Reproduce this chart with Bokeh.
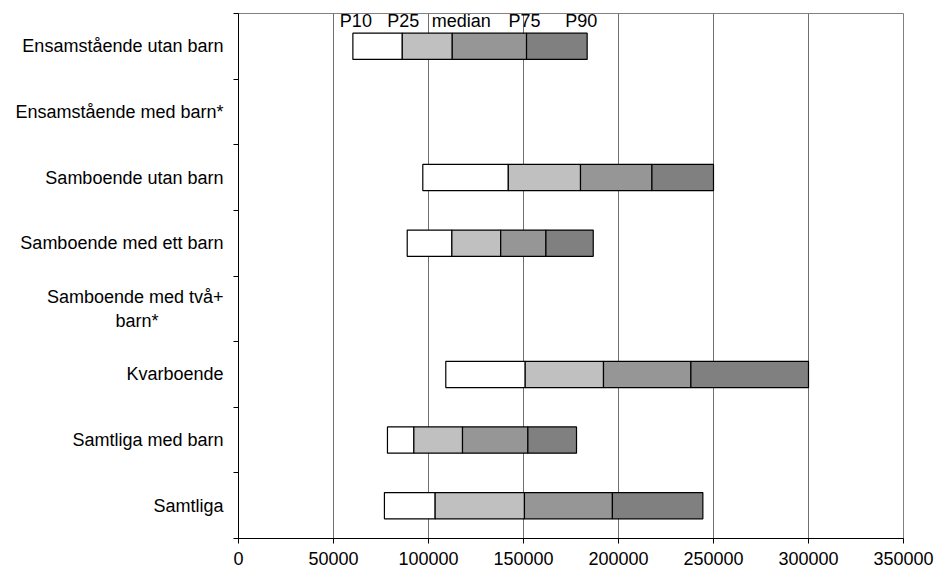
from bokeh.plotting import figure
from bokeh.models import (Range1d, LinearAxis, FixedTicker, NumeralTickFormatter,
                          ColumnDataSource)
from bokeh.core.properties import value
from bokeh.embed import file_html
from bokeh.resources import INLINE

# ---- data (top to bottom as in the chart) ----
categories = [
    "Ensamstående utan barn",
    "Ensamstående med barn*",
    "Samboende utan barn",
    "Samboende med ett barn",
    "Samboende med två+\nbarn*" + "\u00a0" * 13,
    "Kvarboende",
    "Samtliga med barn",
    "Samtliga",
]
p10 =    [60200, None,  97000,  88800, None, 109100, 78400,  76800]
p25 =    [86200, None, 142000, 112300, None, 150900, 92300, 103500]
median = [112500, None, 180000, 138000, None, 192100, 117900, 150500]
p75 =    [151600, None, 217600, 161800, None, 238100, 152300, 196800]
p90 =    [183500, None, 250000, 186700, None, 300000, 177900, 244400]

pct_labels = ["P10", "P25", "median", "P75", "P90"]
x_ticks = [0, 50000, 100000, 150000, 200000, 250000, 300000, 350000]

seg_colors = ["#FFFFFF", "#C0C0C0", "#969696", "#808080"]
FONT = "Liberation Sans"
FS = "18px"

n = len(categories)
ypos = [n - i - 0.5 for i in range(n)]  # row centres, first category at top

p = figure(y_range=Range1d(0, n), x_range=Range1d(0, 350000),
           frame_width=665, frame_height=525,
           min_border_left=238, min_border_right=32, min_border_top=13, min_border_bottom=10,
           y_axis_location=None, output_backend="svg", toolbar_location=None,
           background_fill_color="white", border_fill_color="white")
p.outline_line_color = "#808080"
p.outline_line_width = 1

# bars
cols = [p10, p25, median, p75, p90]
for k in range(4):
    ys, lefts, rights = [], [], []
    for i in range(n):
        if cols[k][i] is None:
            continue
        ys.append(ypos[i])
        lefts.append(cols[k][i])
        rights.append(cols[k + 1][i])
    src = ColumnDataSource(dict(y=ys, left=lefts, right=rights))
    p.hbar(y="y", left="left", right="right", height=0.4, source=src,
           fill_color=seg_colors[k], line_color="black", line_width=1.2)

# percentile labels above first row
lab_src = ColumnDataSource(dict(
    x=[p10[0], p25[0], median[0], p75[0], p90[0]],
    y=[ypos[0] + 0.393] * 5,
    text=pct_labels,
    xoff=[3, 1, 9, -2, -6],
))
p.text(x="x", y="y", text="text", x_offset="xoff", source=lab_src,
       text_align="center", text_baseline="middle",
       text_font=value(FONT), text_font_size=FS, text_color="black")

# x axis
p.xaxis.ticker = FixedTicker(ticks=x_ticks)
p.xaxis.formatter = NumeralTickFormatter(format="0")
p.xaxis.axis_line_color = "black"
p.xaxis.major_tick_line_color = "black"
p.xaxis.major_tick_in = 0
p.xaxis.major_tick_out = 5
p.xaxis.minor_tick_line_color = None
p.xaxis.major_label_text_font = FONT
p.xaxis.major_label_text_font_size = FS
p.xaxis.major_label_text_color = "black"
p.xaxis.major_label_standoff = 8

p.xgrid.ticker = FixedTicker(ticks=x_ticks)
p.xgrid.grid_line_color = "#707070"
p.ygrid.grid_line_color = None

# y axis: labels at row centres, tick marks (minor) at category boundaries
label_axis = LinearAxis(ticker=FixedTicker(ticks=ypos, minor_ticks=list(range(n + 1))),
                        major_label_overrides={y: c for y, c in zip(ypos, categories)},
                        axis_line_color="black",
                        major_tick_line_color=None, major_tick_out=0, major_tick_in=0,
                        minor_tick_line_color="black", minor_tick_out=5, minor_tick_in=0,
                        major_label_text_font=FONT, major_label_text_font_size=FS,
                        major_label_text_color="black", major_label_standoff=10)
p.add_layout(label_axis, "left")

open("out.html", "w").write(file_html(p, INLINE))
